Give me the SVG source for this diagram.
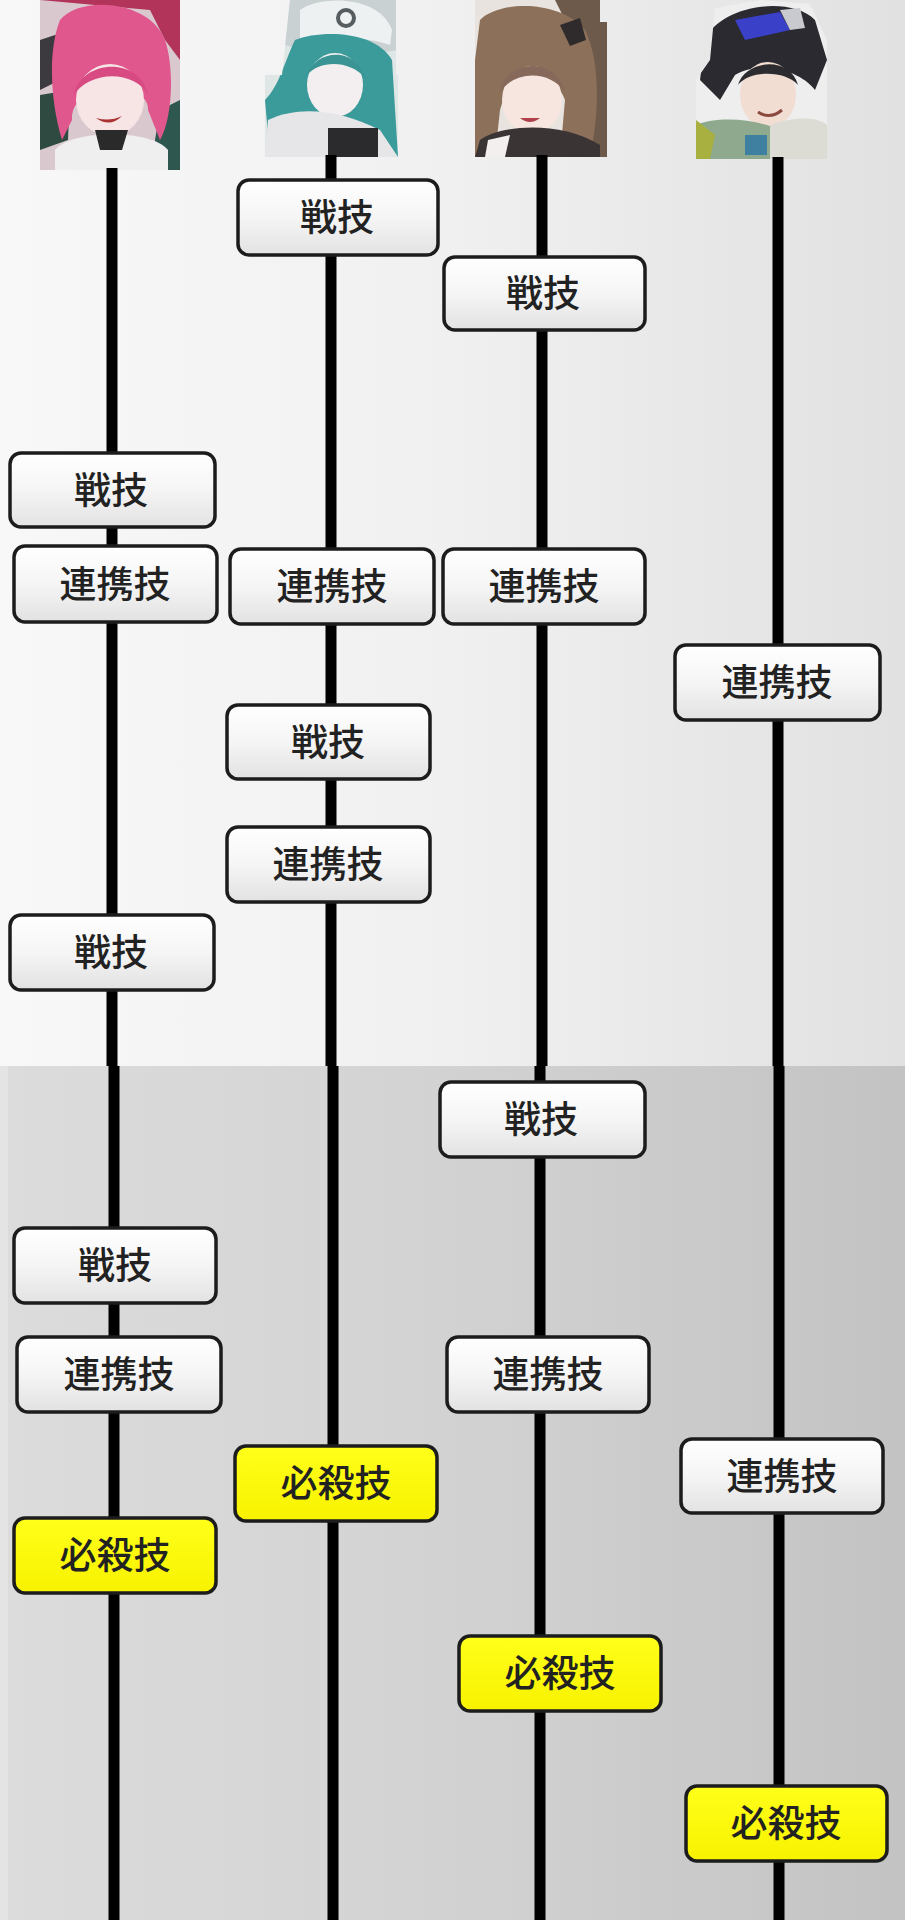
<svg xmlns="http://www.w3.org/2000/svg" width="905" height="1920" viewBox="0 0 905 1920">
<defs>
<linearGradient id="bgTop" x1="0" y1="0" x2="1" y2="0">
<stop offset="0" stop-color="#f8f8f8"/><stop offset="0.5" stop-color="#f0f0f0"/><stop offset="1" stop-color="#e1e1e1"/>
</linearGradient>
<linearGradient id="bgBot" x1="0" y1="0" x2="1" y2="0">
<stop offset="0" stop-color="#dcdcdc"/><stop offset="0.5" stop-color="#d2d2d2"/><stop offset="1" stop-color="#c3c3c3"/>
</linearGradient>
<linearGradient id="boxGrad" x1="0" y1="0" x2="0" y2="1">
<stop offset="0" stop-color="#ffffff"/><stop offset="0.5" stop-color="#f5f5f5"/><stop offset="1" stop-color="#e2e2e2"/>
</linearGradient>
<linearGradient id="yelGrad" x1="0" y1="0" x2="0" y2="1">
<stop offset="0" stop-color="#ffff1a"/><stop offset="1" stop-color="#f8f200"/>
</linearGradient>
<clipPath id="cp1"><rect x="40" y="0" width="140" height="170"/></clipPath>
<clipPath id="cp2"><path d="M290 0 H396 V75 H398 V157 H265 V75 H282 Z"/></clipPath>
<clipPath id="cp3"><path d="M475 0 H600 V22 H607 V157 H475 Z"/></clipPath>
<clipPath id="cp4"><path d="M715 8 L760 0 L810 4 L827 40 V159 H696 V80 L710 60 Z"/></clipPath>
<style>
.lane{stroke:#000;stroke-width:11;fill:none}
.box rect{stroke:#1c1c1c;stroke-width:3.5;fill:url(#boxGrad)}
.box.ult rect{fill:url(#yelGrad)}
.box text{font-family:"Noto Sans CJK JP","Noto Sans CJK SC",sans-serif;font-size:37px;font-weight:500;fill:#222;text-anchor:middle;dominant-baseline:central}
</style>
</defs>

<g id="background">
<rect x="0" y="0" width="905" height="1066" fill="url(#bgTop)"/>
<rect x="0" y="1066" width="905" height="854" fill="url(#bgBot)"/>
<rect x="0" y="1066" width="8" height="854" fill="#e4e4e4"/>
</g>

<g id="portrait-1" clip-path="url(#cp1)">
<rect x="40" y="0" width="140" height="170" fill="#d9c9cf"/>
<path d="M40 0 H180 V60 L165 40 L150 10 Z" fill="#b2345a"/>
<path d="M40 40 L70 30 L60 80 L40 90 Z" fill="#3c3a3e"/>
<path d="M40 95 L70 90 L68 140 L40 150 Z" fill="#2f4a40"/>
<path d="M160 110 L180 100 V170 H150 Z" fill="#2e5750"/>
<path d="M60 20 C80 -5 150 0 165 40 C175 70 172 120 160 140 L148 110 C150 80 70 80 72 120 L62 140 C50 100 48 50 60 20 Z" fill="#e0578e"/>
<ellipse cx="110" cy="100" rx="34" ry="36" fill="#f7e4e4"/>
<path d="M74 95 C80 60 140 55 148 95 C135 70 90 70 74 95 Z" fill="#d84b82"/>
<path d="M96 118 Q110 128 122 116 Q110 122 96 118 Z" fill="#a33"/>
<path d="M55 150 C70 130 150 128 168 150 V170 H55 Z" fill="#efefef"/>
<path d="M95 130 H128 L122 150 H100 Z" fill="#2a2a2a"/>
</g>

<g id="portrait-2" clip-path="url(#cp2)">
<rect x="265" y="0" width="133" height="157" fill="#dfe6e6"/>
<path d="M285 0 H398 V50 C370 55 320 55 285 45 Z" fill="#c9d1d3"/>
<path d="M300 10 C320 -5 380 -5 392 30 L390 45 C360 35 320 35 300 45 Z" fill="#eef1f1"/>
<circle cx="346" cy="18" r="8" fill="none" stroke="#555d60" stroke-width="4"/>
<path d="M295 40 C320 30 375 30 392 60 L398 157 H340 L330 120 C320 135 300 150 270 157 L265 100 C280 85 285 60 295 40 Z" fill="#3b9a9a"/>
<ellipse cx="335" cy="85" rx="28" ry="32" fill="#f3eeef"/>
<path d="M307 75 C315 50 355 45 365 78 C350 60 320 60 307 75 Z" fill="#3a9494"/>
<path d="M268 120 C300 105 340 110 380 130 L398 157 H265 Z" fill="#e6e6e8"/>
<rect x="328" y="128" width="50" height="29" fill="#2b2b2e"/>
</g>

<g id="portrait-3" clip-path="url(#cp3)">
<rect x="475" y="0" width="132" height="157" fill="#e9e3df"/>
<path d="M475 0 H607 V157 H585 C590 110 595 60 570 30 L555 0 Z" fill="#6e5a4b"/>
<path d="M480 20 C500 0 560 0 585 30 C600 60 600 110 590 157 H560 L565 100 C555 70 510 70 500 110 L495 157 H475 V60 Z" fill="#8c7059"/>
<path d="M560 25 L580 18 L586 40 L570 46 Z" fill="#2f2b2c"/>
<ellipse cx="532" cy="100" rx="30" ry="34" fill="#f6e6df"/>
<path d="M500 92 C505 60 555 55 565 92 C550 70 515 70 500 92 Z" fill="#86695a"/>
<path d="M520 118 Q530 126 540 118 Z" fill="#b0404a"/>
<path d="M480 140 C500 125 560 120 600 145 V157 H475 Z" fill="#3a3434"/>
<path d="M488 140 L510 135 L505 157 H485 Z" fill="#f4efef"/>
</g>

<g id="portrait-4" clip-path="url(#cp4)">
<rect x="696" y="0" width="131" height="159" fill="#eeeeee"/>
<path d="M705 40 C720 5 790 -5 815 20 L827 60 L815 90 C800 70 760 60 735 75 L720 100 L700 80 Z" fill="#2a2a30"/>
<path d="M735 20 L780 12 L790 30 L745 40 Z" fill="#3a40c8"/>
<path d="M780 10 L800 8 L805 28 L790 30 Z" fill="#c9c9d0"/>
<ellipse cx="768" cy="95" rx="28" ry="33" fill="#f1ddd2"/>
<path d="M738 85 C745 60 790 55 798 85 C785 70 750 70 738 85 Z" fill="#2b2b30"/>
<path d="M758 112 Q770 120 782 110" stroke="#8a4a40" stroke-width="3" fill="none"/>
<path d="M696 125 C720 115 760 120 780 130 L775 159 H696 Z" fill="#8ea98e"/>
<path d="M770 125 C790 118 815 115 827 125 V159 H770 Z" fill="#dcdcd4"/>
<rect x="745" y="135" width="22" height="20" fill="#3f7fa0"/>
<path d="M696 120 L715 135 L710 159 H696 Z" fill="#a8b040"/>
</g>

<g id="connectors">
<line class="lane" x1="112" y1="168" x2="112" y2="1066"/>
<line class="lane" x1="114" y1="1066" x2="114" y2="1920"/>
<line class="lane" x1="331" y1="155" x2="331" y2="1066"/>
<line class="lane" x1="333" y1="1066" x2="333" y2="1920"/>
<line class="lane" x1="542" y1="155" x2="542" y2="1066"/>
<line class="lane" x1="540" y1="1066" x2="540" y2="1920"/>
<line class="lane" x1="778" y1="157" x2="778" y2="1066"/>
<line class="lane" x1="779" y1="1066" x2="779" y2="1920"/>
</g>

<g id="node-c2-1" class="box"><rect x="238" y="180" width="200" height="75" rx="11"/><text x="337" y="215">戦技</text></g>
<g id="node-c3-1" class="box"><rect x="444" y="257" width="201" height="73" rx="11"/><text x="543" y="291">戦技</text></g>
<g id="node-c1-1" class="box"><rect x="10" y="453" width="205" height="74" rx="11"/><text x="111" y="488">戦技</text></g>
<g id="node-c1-2" class="box"><rect x="14" y="546" width="203" height="76" rx="11"/><text x="115" y="582">連携技</text></g>
<g id="node-c2-2" class="box"><rect x="230" y="549" width="204" height="75" rx="11"/><text x="332" y="584">連携技</text></g>
<g id="node-c3-2" class="box"><rect x="443" y="549" width="202" height="75" rx="11"/><text x="544" y="584">連携技</text></g>
<g id="node-c4-1" class="box"><rect x="675" y="645" width="205" height="75" rx="11"/><text x="777" y="680">連携技</text></g>
<g id="node-c2-3" class="box"><rect x="227" y="705" width="203" height="74" rx="11"/><text x="328" y="740">戦技</text></g>
<g id="node-c2-4" class="box"><rect x="227" y="827" width="203" height="75" rx="11"/><text x="328" y="862">連携技</text></g>
<g id="node-c1-3" class="box"><rect x="10" y="915" width="204" height="75" rx="11"/><text x="111" y="950">戦技</text></g>
<g id="node-c3-3" class="box"><rect x="440" y="1082" width="205" height="75" rx="11"/><text x="541" y="1117">戦技</text></g>
<g id="node-c1-4" class="box"><rect x="14" y="1228" width="202" height="75" rx="11"/><text x="115" y="1263">戦技</text></g>
<g id="node-c1-5" class="box"><rect x="17" y="1337" width="204" height="75" rx="11"/><text x="119" y="1372">連携技</text></g>
<g id="node-c3-4" class="box"><rect x="447" y="1337" width="202" height="75" rx="11"/><text x="548" y="1372">連携技</text></g>
<g id="node-c2-5" class="box ult"><rect x="235" y="1446" width="202" height="75" rx="11"/><text x="336" y="1481">必殺技</text></g>
<g id="node-c4-2" class="box"><rect x="681" y="1439" width="202" height="74" rx="11"/><text x="782" y="1474">連携技</text></g>
<g id="node-c1-6" class="box ult"><rect x="14" y="1518" width="202" height="75" rx="11"/><text x="115" y="1553">必殺技</text></g>
<g id="node-c3-5" class="box ult"><rect x="459" y="1636" width="202" height="75" rx="11"/><text x="560" y="1671">必殺技</text></g>
<g id="node-c4-3" class="box ult"><rect x="686" y="1786" width="201" height="75" rx="11"/><text x="786" y="1821">必殺技</text></g>
</svg>
